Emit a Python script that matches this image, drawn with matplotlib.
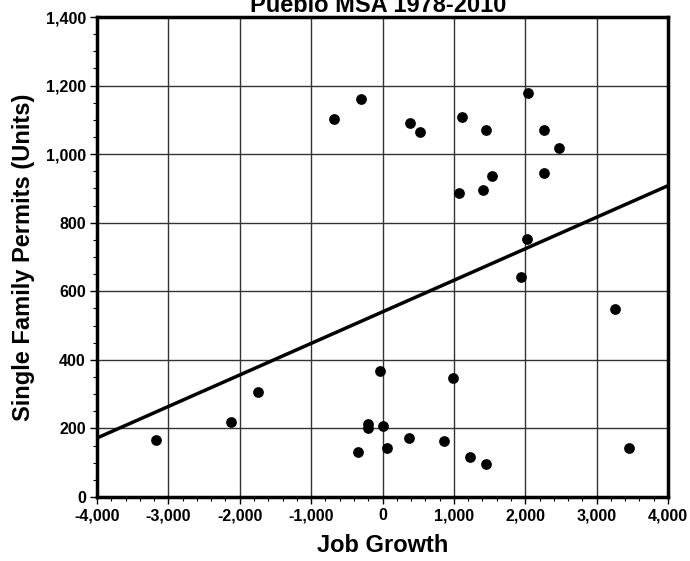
import matplotlib
matplotlib.use("Agg")
import matplotlib.pyplot as plt
import numpy as np
from matplotlib.ticker import MultipleLocator, FuncFormatter

job_growth = [-3180, -2120, -1740, -30, -210, -200, 10, -340, 70, 1940, 3260, 990,
              375, 860, 1220, 1455, 3455, 2045, 380, 520, 1115, 1447, 2265, 2470,
              1535, 2265, 1077, 1415, 2020, -295, -680]
permits = [165, 220, 305, 368, 212, 200, 207, 130, 142, 642, 548, 347,
           172, 164, 116, 96, 142, 1178, 1092, 1066, 1109, 1069, 1069, 1018,
           937, 946, 887, 896, 753, 1161, 1103]
trend_intercept = 540
trend_slope = 0.092
title = "Pueblo MSA 1978-2010"
xlabel = "Job Growth"
ylabel = "Single Family Permits (Units)"

plt.rcParams['font.family'] = ['Liberation Sans', 'DejaVu Sans']
plt.rcParams['font.weight'] = 'bold'

fig = plt.figure(figsize=(6.9, 5.61), dpi=100)
ax = fig.add_axes([97/690, 64/561, 571/690, 480/561])

ax.set_xlim(-4000, 4000)
ax.set_ylim(0, 1400)
ax.xaxis.set_major_locator(MultipleLocator(1000))
ax.xaxis.set_minor_locator(MultipleLocator(200))
ax.yaxis.set_major_locator(MultipleLocator(200))
ax.yaxis.set_minor_locator(MultipleLocator(50))
fmt = FuncFormatter(lambda v, p: f"{int(round(v)):,}")
ax.xaxis.set_major_formatter(fmt)
ax.yaxis.set_major_formatter(fmt)
ax.grid(True, which='major', color='#333333', linewidth=1.0)
ax.set_axisbelow(True)
for s in ax.spines.values():
    s.set_linewidth(2.5)
ax.tick_params(which='major', direction='out', length=5, width=1, labelsize=11.5, pad=3)
ax.tick_params(which='minor', direction='out', length=3, width=0.8)
for lab in ax.get_xticklabels() + ax.get_yticklabels():
    lab.set_fontweight('bold')

xs = np.array([-4000, 4000])
ax.plot(xs, trend_intercept + trend_slope * xs, color='black', linewidth=2.5, zorder=3)
ax.scatter(job_growth, permits, s=60, color='black', zorder=4, linewidths=0)

ax.set_xlabel(xlabel, fontsize=17, fontweight='bold', labelpad=8)
ax.set_ylabel(ylabel, fontsize=17, fontweight='bold', labelpad=8)
fig.text(378/690, 1 - 12/561, title, ha='center', va='baseline', fontsize=17, fontweight='bold')

fig.savefig("out.png", dpi=100)
